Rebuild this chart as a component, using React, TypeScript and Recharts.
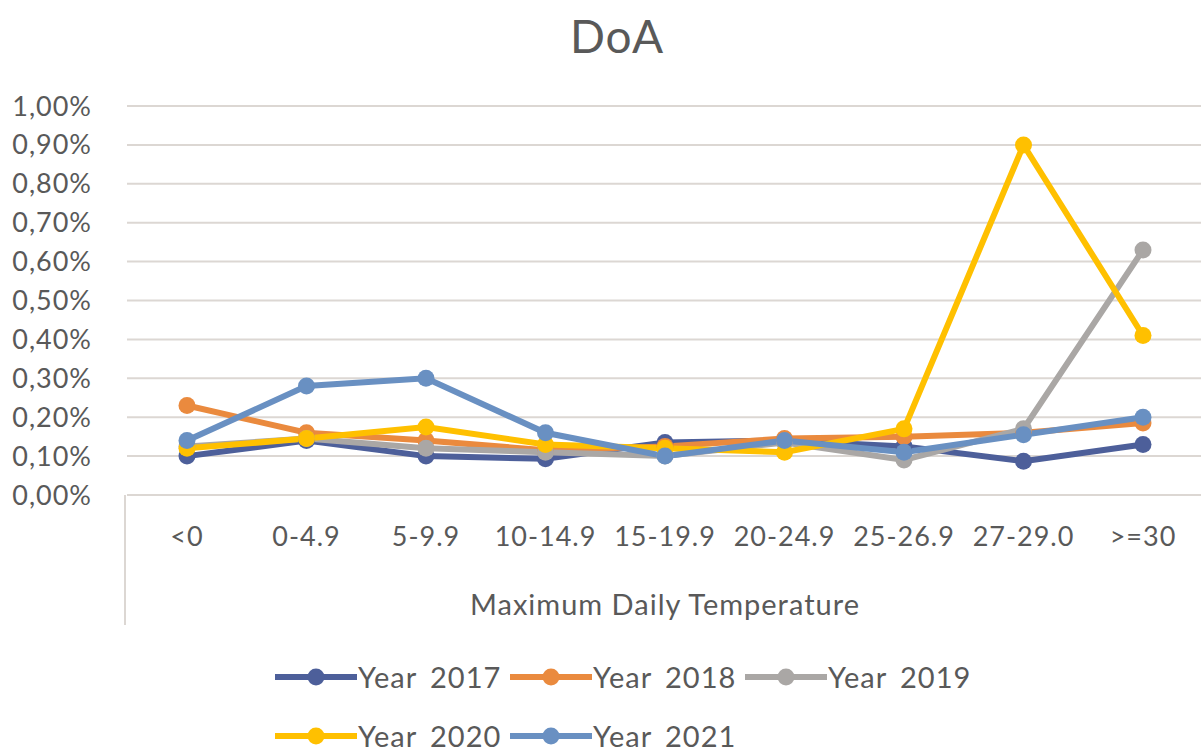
import React from 'react';
import { LineChart, Line, XAxis, YAxis, CartesianGrid, Legend } from 'recharts';

const categories = ['<0', '0-4.9', '5-9.9', '10-14.9', '15-19.9', '20-24.9', '25-26.9', '27-29.0', '>=30'];
const year2017 = [0.10, 0.14, 0.10, 0.093, 0.135, 0.14, 0.125, 0.087, 0.13];
const year2018 = [0.23, 0.16, 0.14, 0.115, 0.125, 0.145, 0.15, 0.16, 0.185];
const year2019 = [0.125, 0.145, 0.12, 0.11, 0.10, 0.135, 0.09, 0.17, 0.63];
const year2020 = [0.12, 0.145, 0.175, 0.13, 0.12, 0.11, 0.17, 0.90, 0.41];
const year2021 = [0.14, 0.28, 0.30, 0.16, 0.10, 0.14, 0.11, 0.155, 0.20];
const yTicks = [0, 0.1, 0.2, 0.3, 0.4, 0.5, 0.6, 0.7, 0.8, 0.9, 1.0];

const series = [
  { key: 'y2017', name: 'Year 2017', values: year2017, color: '#4d5f9a' },
  { key: 'y2018', name: 'Year 2018', values: year2018, color: '#ea8a3e' },
  { key: 'y2019', name: 'Year 2019', values: year2019, color: '#aaa7a5' },
  { key: 'y2020', name: 'Year 2020', values: year2020, color: '#ffc000' },
  { key: 'y2021', name: 'Year 2021', values: year2021, color: '#6990c2' },
];

const data = categories.map((c, i) => {
  const row: Record<string, string | number> = { cat: c };
  series.forEach((s) => {
    row[s.key] = s.values[i];
  });
  return row;
});

const FONT = 'Lato, "Open Sans", sans-serif';
const TEXT = '#595959';

const fmt = (v: number) => v.toFixed(2).replace('.', ',') + '%';

const LegendContent = () => (
  <div style={{ height: 105, width: 1201, position: 'relative' }}>
    <div style={{ position: 'absolute', left: 275, top: 0, width: 720, display: 'flex', flexWrap: 'wrap' }}>
      {series.map((s) => (
        <div key={s.key} style={{ width: 235, height: 59, display: 'flex', alignItems: 'center' }}>
          <svg width={82} height={20} style={{ flex: 'none' }}>
            <line x1={1} y1={10} x2={81} y2={10} stroke={s.color} strokeWidth={6} strokeLinecap="round" />
            <circle cx={41} cy={10} r={8.5} fill={s.color} />
          </svg>
          <span style={{ fontFamily: FONT, fontSize: 29, letterSpacing: 1, color: TEXT, marginLeft: 1, wordSpacing: 5, whiteSpace: 'nowrap' }}>{s.name}</span>
        </div>
      ))}
    </div>
  </div>
);

export default function App() {
  return (
    <div style={{ position: 'absolute', left: 0, top: 0, width: 1201, height: 752, overflow: 'hidden', background: '#fff' }}>
      <div style={{ position: 'absolute', left: 517, top: 8, width: 200, textAlign: 'center', fontFamily: FONT, fontSize: 46, letterSpacing: 1, color: TEXT }}>DoA</div>
      <div style={{ position: 'absolute', left: 124, top: 495, height: 130, width: 0, borderLeft: '2px solid #dcd7d3' }} />
      <div style={{ position: 'absolute', left: 0, top: 0 }}>
        <LineChart width={1203} height={752} data={data} margin={{ top: 106, right: 0, left: 0, bottom: 0 }}>
          <CartesianGrid vertical={false} stroke="#dcd7d3" strokeWidth={2} />
          <XAxis
            dataKey="cat"
            height={152}
            padding={{ left: 60, right: 60 }}
            axisLine={false}
            tickLine={false}
            tickSize={0}
            tickMargin={32}
            interval={0}
            tick={{ fill: TEXT, fontSize: 27, letterSpacing: 1, fontFamily: FONT }}
            label={{ value: 'Maximum Daily Temperature', position: 'insideBottom', offset: 32, fill: TEXT, fontSize: 29, letterSpacing: 1, fontFamily: FONT }}
          />
          <YAxis
            width={127}
            domain={[0, 1]}
            ticks={yTicks}
            interval={0}
            axisLine={false}
            tickLine={false}
            tickSize={0}
            tickMargin={35}
            tickFormatter={fmt}
            tick={{ fill: TEXT, fontSize: 27, letterSpacing: 1, fontFamily: FONT }}
          />
          <Legend verticalAlign="bottom" content={<LegendContent />} wrapperStyle={{ left: 0, bottom: 0 }} />
          {series.map((s) => (
            <Line
              key={s.key}
              type="linear"
              dataKey={s.key}
              name={s.name}
              stroke={s.color}
              strokeWidth={6}
              dot={{ r: 8.5, fill: s.color, stroke: s.color, strokeWidth: 0 }}
              activeDot={false}
              isAnimationActive={false}
            />
          ))}
        </LineChart>
      </div>
    </div>
  );
}
